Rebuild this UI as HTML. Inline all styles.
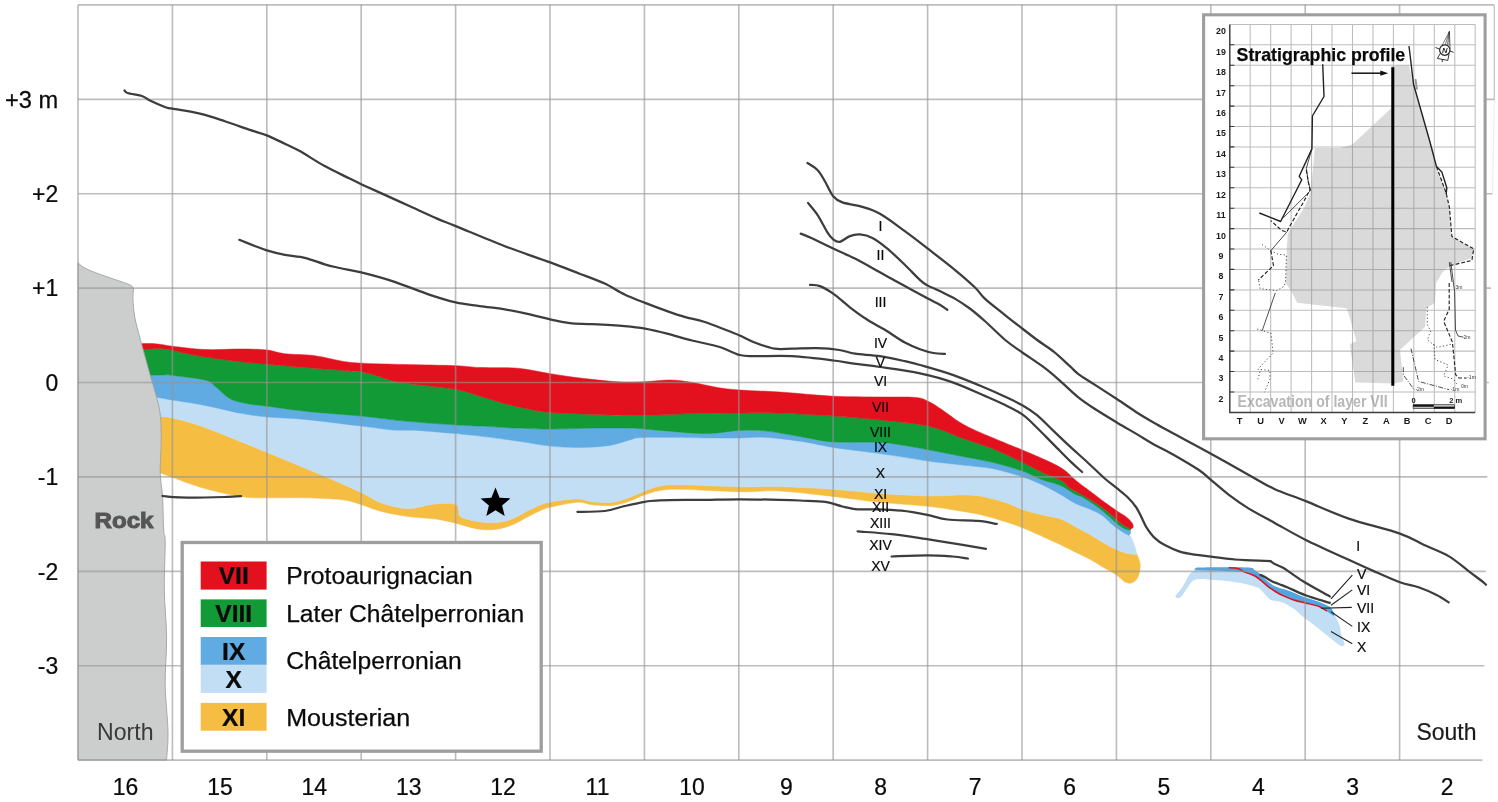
<!DOCTYPE html>
<html lang="en"><head><meta charset="utf-8"><title>Stratigraphic profile</title>
<style>
html,body{margin:0;padding:0;background:#fff;}
body{width:1498px;height:802px;overflow:hidden;font-family:"Liberation Sans",sans-serif;}
svg{display:block;}
text{font-family:"Liberation Sans",sans-serif;}
.ln{fill:none;stroke:#3d3d3d;stroke-width:2.25;stroke-linecap:round;stroke-linejoin:round;}
.pt{fill:none;stroke:#222;stroke-width:1.1;}
.ax{font-size:24px;fill:#0a0a0a;stroke:#0a0a0a;stroke-width:0.25px;}
.lab{font-size:14px;fill:#0a0a0a;stroke:#0a0a0a;stroke-width:0.2px;}
.il{font-size:9.3px;font-weight:bold;fill:#1a1a1a;}
.it{font-size:5px;fill:#333;}
.ith{fill:none;stroke:#222;stroke-width:0.8;}
.dsh{fill:none;stroke:#222;stroke-width:1.15;stroke-dasharray:3.8 2;}
</style></head><body>
<svg width="1498" height="802" viewBox="0 0 1498 802">
<rect width="1498" height="802" fill="#fff"/>

<g id="layers" stroke-width="0.5" stroke-linejoin="round">
<path fill="#f5bd42" stroke="#f5bd42" d="M154 416.2C155 416.3 156.9 416.3 160 416.6C163.1 416.9 164.9 416.1 172.4 417.9C179.9 419.7 189.3 421.7 205 427.4C220.7 433.1 246 443.8 266.8 452.3C287.6 460.8 314 471.9 329.8 478.6C345.6 485.4 353.4 488.9 361.7 492.8C370 496.8 373.4 499.8 379.7 502.3C386 504.8 394.3 506.8 399.7 507.8C405.1 508.8 407 509 412 508.5C417 508 424.9 505.6 429.6 504.8C434.3 504 436.4 503.9 440 503.6C443.6 503.4 448.4 502.9 451.3 503.3C454.2 503.7 456.2 504.7 457.5 505.8C458.8 506.9 458.4 508.5 458.8 510.1C459.2 511.7 458.4 513.9 459.6 515.4C460.8 516.9 462.2 517.8 466.2 518.9C470.2 520 477.8 521.7 483.6 522.2C489.4 522.7 496 522.6 501.1 521.9C506.2 521.2 509.8 519.8 514.2 518C518.6 516.2 522.9 513.2 527.3 511C531.7 508.8 536.5 506.4 540.4 504.9C544.3 503.4 544.6 502.9 550.8 501.9C557 500.9 570.5 499 577.4 499C584.3 499 586.6 501.2 592.4 501.8C598.2 502.4 606.1 503.1 612.3 502.3C618.5 501.6 624.4 499.2 629.8 497.3C635.2 495.4 639.8 492.9 644.8 491C649.8 489.1 654 487 659.8 486C665.6 485 666.5 484.7 679.8 484.8C693.1 484.9 723.1 486.5 739.7 486.8C756.3 487.1 764 486.2 779.6 486.6C795.2 487 816.6 488.2 833.3 489.3C850 490.4 864.2 492.4 880 493.5C895.8 494.6 914.8 495.6 928.1 495.9C941.4 496.1 951.4 495 960 495C968.6 495 972.5 494.8 980 496C987.5 497.2 997.8 500.1 1004.8 502.3C1011.8 504.5 1016.1 507.3 1022.3 509.4C1028.5 511.5 1035.9 513.2 1042.2 514.8C1048.5 516.4 1054.5 516.9 1060 518.8C1065.5 520.7 1070 523.8 1075 526.4C1080 529 1085 531.7 1090 534.6C1095 537.5 1100.5 541.1 1104.9 543.6C1109.3 546.1 1112.8 548 1116.6 549.6C1120.3 551.2 1124 552.6 1127.4 553.4C1130.8 554.2 1135.5 554.2 1137.1 554.4C1137.6 556 1139.7 560.7 1140.1 563.8C1140.5 566.9 1139.9 570.2 1139.3 572.8C1138.7 575.4 1137.8 577.9 1136.3 579.6C1134.8 581.4 1132.4 582.9 1130.4 583.3C1128.4 583.7 1125.4 582 1124.4 581.8C1123.1 580.7 1119.8 577.4 1116.6 575.1C1113.3 572.9 1109.3 570.9 1104.9 568.3C1100.5 565.7 1095 562 1090 559.3C1085 556.6 1080 554.4 1075 551.9C1070 549.4 1064.2 546.4 1060 544.4C1055.8 542.4 1056.2 542.7 1050 539.9C1043.8 537.1 1030 530.8 1022.5 527.8C1015 524.8 1011.9 523.8 1004.8 521.6C997.7 519.4 987.5 516.4 980 514.6C972.5 512.8 968.6 512.4 960 511C951.4 509.6 941.4 507.8 928.1 506.3C914.8 504.9 895.8 503.9 880 502.3C864.2 500.7 850 498.4 833.3 496.5C816.6 494.6 795.2 491.8 779.6 491C764 490.2 756.3 492.1 739.7 491.8C723.1 491.5 693.1 489.5 679.8 489.3C666.5 489.1 665.6 489.6 659.8 490.5C654 491.4 649.8 493.1 644.8 494.8C639.8 496.6 635.2 499.2 629.8 501C624.4 502.8 618.5 504.9 612.3 505.5C606.1 506.1 598.2 505.3 592.4 504.8C586.6 504.3 584.3 501.9 577.4 502.3C570.5 502.7 557 505.7 550.8 507.1C544.6 508.5 544.3 508.9 540.4 510.6C536.5 512.3 531.7 514.9 527.3 517.1C522.9 519.4 518.6 522.2 514.2 524.1C509.8 526 505.5 527.5 501.1 528.5C496.7 529.5 492.4 529.8 488 529.8C483.6 529.8 480.3 529.6 474.9 528.5C469.5 527.4 461.5 524.7 455.7 523.2C449.9 521.7 444.4 520.5 440 519.7C435.6 518.9 435.5 519.1 429.6 518.5C423.7 517.9 413 517.2 404.7 516C396.4 514.8 386.9 512.9 379.7 511C372.5 509.1 367.9 506.7 361.7 504.8C355.4 502.9 351.7 501 342.2 499.8C332.7 498.6 317.4 498.1 304.8 497.8C292.2 497.5 277.2 498 266.8 497.8C256.4 497.6 252.7 498.3 242.4 496.8C232.1 495.3 216.7 491.9 205 488.6C193.3 485.4 179.8 479.9 172.4 477.3C165 474.7 163.6 474.1 160.5 473C157.4 471.9 155.1 471.3 154 471Z"/>
<path fill="#c2def5" stroke="#c2def5" d="M152 396.6C152.9 396.7 154.1 396.8 157.5 397.4C160.9 398 164.5 398.7 172.4 400C180.3 401.3 193.3 403.1 205 405.4C216.7 407.7 232.1 411.7 242.4 413.6C252.7 415.5 256.4 415.9 266.8 416.9C277.2 417.9 289 417.9 304.8 419.4C320.6 420.9 347.1 424.4 361.7 426.1C376.3 427.9 383 429.2 392.2 429.9C401.4 430.6 406.4 429.8 417 430.4C427.6 431 445.3 432.7 455.8 433.6C466.3 434.6 469.7 434.9 480 436.1C490.3 437.4 505.8 439.4 517.5 441.1C529.2 442.8 540 445.1 550.4 446.1C560.8 447.2 570 447.5 579.9 447.4C589.8 447.3 601.5 446.6 609.8 445.4C618.1 444.1 624 441.2 629.8 439.9C635.6 438.6 632.3 437.7 644.8 437.4C657.3 437.1 688.9 437.8 704.7 437.9C720.5 438 729.3 438 739.7 437.9C750.1 437.8 756.2 436.7 767 437.4C777.8 438.1 793.6 440.2 804.6 441.9C815.6 443.6 820.7 445.4 833.3 447.4C845.9 449.3 864.2 451.3 880 453.6C895.8 455.9 914.8 459.1 928.1 461C941.4 462.9 949.3 463.5 960 464.8C970.7 466.1 981.9 466.6 992.3 468.6C1002.7 470.6 1014 474.1 1022.3 476.8C1030.6 479.5 1035.9 481.9 1042.2 484.8C1048.5 487.7 1054.5 491.1 1060 494.2C1065.5 497.3 1070 500.7 1075 503.2C1080 505.7 1085.5 507.2 1090 509.2C1094.5 511.2 1098.4 512.8 1101.9 515.2C1105.4 517.6 1108.5 521.3 1110.9 523.4C1113.4 525.5 1114.3 526.3 1116.6 527.9C1118.8 529.5 1122.4 531.9 1124.4 533.1C1126.5 534.4 1128.2 535 1128.9 535.4C1129.2 535.5 1129.5 534.6 1130.4 536.1C1131.3 537.6 1133 541.4 1134.1 544.4C1135.2 547.4 1136.6 552.7 1137.1 554.4C1135.5 554.2 1130.8 554.2 1127.4 553.4C1124 552.6 1120.3 551.2 1116.6 549.6C1112.8 548 1109.3 546.1 1104.9 543.6C1100.5 541.1 1095 537.5 1090 534.6C1085 531.7 1080 529 1075 526.4C1070 523.8 1065.5 520.7 1060 518.8C1054.5 516.9 1048.5 516.4 1042.2 514.8C1035.9 513.2 1028.5 511.5 1022.3 509.4C1016.1 507.3 1011.8 504.5 1004.8 502.3C997.8 500.1 987.5 497.2 980 496C972.5 494.8 968.6 495 960 495C951.4 495 941.4 496.1 928.1 495.9C914.8 495.6 895.8 494.6 880 493.5C864.2 492.4 850 490.4 833.3 489.3C816.6 488.2 795.2 487 779.6 486.6C764 486.2 756.3 487.1 739.7 486.8C723.1 486.5 693.1 484.9 679.8 484.8C666.5 484.7 665.6 485 659.8 486C654 487 649.8 489.1 644.8 491C639.8 492.9 635.2 495.4 629.8 497.3C624.4 499.2 618.5 501.6 612.3 502.3C606.1 503.1 598.2 502.4 592.4 501.8C586.6 501.2 584.3 499 577.4 499C570.5 499 557 500.9 550.8 501.9C544.6 502.9 544.3 503.4 540.4 504.9C536.5 506.4 531.7 508.8 527.3 511C522.9 513.2 518.6 516.2 514.2 518C509.8 519.8 506.2 521.2 501.1 521.9C496 522.6 489.4 522.7 483.6 522.2C477.8 521.7 470.2 520 466.2 518.9C462.2 517.8 460.8 516.9 459.6 515.4C458.4 513.9 459.2 511.7 458.8 510.1C458.4 508.5 458.8 506.9 457.5 505.8C456.2 504.7 454.2 503.7 451.3 503.3C448.4 502.9 443.6 503.4 440 503.6C436.4 503.9 434.3 504 429.6 504.8C424.9 505.6 417 508 412 508.5C407 509 405.1 508.8 399.7 507.8C394.3 506.8 386 504.8 379.7 502.3C373.4 499.8 370 496.8 361.7 492.8C353.4 488.9 345.6 485.4 329.8 478.6C314 471.9 287.6 460.8 266.8 452.3C246 443.8 220.7 433.1 205 427.4C189.3 421.7 179.9 419.7 172.4 417.9C164.9 416.1 163.1 416.9 160 416.6C156.9 416.3 155 416.3 154 416.2Z"/>
<path fill="#60abe2" stroke="#60abe2" d="M145 375.4C145.9 375.4 147.4 375.3 150.7 375.2C154 375.1 161.1 374.9 164.7 374.9C168.3 374.9 165.7 374.5 172.4 375.4C179.1 376.2 197.9 378.2 205 380C212.1 381.8 210.8 383.1 215 386.2C219.2 389.3 224.6 395.8 230 398.7C235.4 401.6 241.3 402.4 247.4 403.7C253.5 404.9 257.2 404.9 266.8 406.2C276.4 407.4 289 409.5 304.8 411.2C320.6 412.9 345.1 414.5 361.7 416.1C378.3 417.8 389 419.6 404.7 421.1C420.4 422.6 443.2 424.1 455.8 424.9C468.4 425.7 469.7 425.6 480 426.1C490.3 426.6 505.8 427.6 517.5 428.1C529.2 428.6 537.9 429.1 550.4 429.1C562.9 429.1 579.2 428.3 592.4 428.1C605.6 427.9 619.4 427.8 629.8 428.1C640.2 428.4 642.3 429 654.8 429.9C667.3 430.8 690.6 433.5 704.7 433.6C718.9 433.7 729.3 430.8 739.7 430.4C750.1 430 756.2 429.9 767 431.1C777.8 432.3 793.6 435.6 804.6 437.4C815.6 439.2 820.7 441.1 833.3 441.9C845.9 442.7 868.9 441.9 880 442.4C891.1 442.9 892 443.6 900 444.8C908 446 918.1 447.9 928.1 449.8C938.1 451.7 949.3 453.9 960 456C970.7 458.1 981.9 459.8 992.3 462.3C1002.7 464.8 1014 468.1 1022.3 471C1030.6 473.9 1035.9 477.4 1042.2 479.8C1048.5 482.2 1054.5 482.8 1060 485.2C1065.5 487.6 1071.2 492.2 1075 494.2C1078.8 496.2 1078.8 495.1 1082.5 497.2C1086.2 499.3 1092.7 503.4 1097.4 506.9C1102.1 510.4 1107.7 515.5 1110.9 518.2C1114.1 521 1114.3 521.6 1116.6 523.4C1118.8 525.1 1122.1 527.6 1124.4 528.7C1126.7 529.8 1129.4 529.9 1130.4 530.1C1130.4 530.6 1130.8 532.1 1130.6 533C1130.3 533.9 1129.2 535 1128.9 535.4C1128.2 535 1126.5 534.4 1124.4 533.1C1122.4 531.9 1118.8 529.5 1116.6 527.9C1114.3 526.3 1113.4 525.5 1110.9 523.4C1108.5 521.3 1105.4 517.6 1101.9 515.2C1098.4 512.8 1094.5 511.2 1090 509.2C1085.5 507.2 1080 505.7 1075 503.2C1070 500.7 1065.5 497.3 1060 494.2C1054.5 491.1 1048.5 487.7 1042.2 484.8C1035.9 481.9 1030.6 479.5 1022.3 476.8C1014 474.1 1002.7 470.6 992.3 468.6C981.9 466.6 970.7 466.1 960 464.8C949.3 463.5 941.4 462.9 928.1 461C914.8 459.1 895.8 455.9 880 453.6C864.2 451.3 845.9 449.3 833.3 447.4C820.7 445.4 815.6 443.6 804.6 441.9C793.6 440.2 777.8 438.1 767 437.4C756.2 436.7 750.1 437.8 739.7 437.9C729.3 438 720.5 438 704.7 437.9C688.9 437.8 657.3 437.1 644.8 437.4C632.3 437.7 635.6 438.6 629.8 439.9C624 441.2 618.1 444.1 609.8 445.4C601.5 446.6 589.8 447.3 579.9 447.4C570 447.5 560.8 447.2 550.4 446.1C540 445.1 529.2 442.8 517.5 441.1C505.8 439.4 490.3 437.4 480 436.1C469.7 434.9 466.3 434.6 455.8 433.6C445.3 432.7 427.6 431 417 430.4C406.4 429.8 401.4 430.6 392.2 429.9C383 429.2 376.3 427.9 361.7 426.1C347.1 424.4 320.6 420.9 304.8 419.4C289 417.9 277.2 417.9 266.8 416.9C256.4 415.9 252.7 415.5 242.4 413.6C232.1 411.7 216.7 407.7 205 405.4C193.3 403.1 180.3 401.3 172.4 400C164.5 398.7 160.9 398 157.5 397.4C154.1 396.8 152.9 396.7 152 396.6Z"/>
<path fill="#119a36" stroke="#119a36" d="M136 350.5C137.1 350.4 139 350.3 142.5 350C146 349.7 152.9 348.6 157.2 348.5C161.5 348.4 164.6 349 168.4 349.6C172.2 350.2 173.9 351 180 352.2C186.1 353.4 194.6 355.4 205 357C215.4 358.6 232.1 360.8 242.4 362C252.7 363.2 256.4 363.3 266.8 364.2C277.2 365.1 292.2 366.5 304.8 367.5C317.4 368.5 332.2 369.6 342.2 370.4C352.2 371.2 356.4 370.7 364.7 372.4C373 374.1 385.5 378.9 392.2 380.7C398.9 382.5 394.3 381.8 404.7 383.2C415.1 384.6 442.1 387 454.6 389.2C467.2 391.4 471.6 393.8 480 396.2C488.4 398.6 496.7 401.5 505 403.7C513.3 405.9 522.4 407.9 530 409.4C537.6 410.8 540 411.6 550.4 412.4C560.8 413.2 576.7 413.9 592.4 414.4C608.1 414.9 628.2 415.5 644.8 415.4C661.4 415.3 676.4 414 692.2 413.6C708 413.2 725.1 413.1 739.7 413C754.3 412.9 764 412.6 779.6 413.1C795.2 413.6 816.6 415 833.3 416.1C850 417.2 864.2 418.3 880 420C895.8 421.7 914.8 423.2 928.1 426.1C941.4 429 949.3 433.6 960 437.4C970.7 441.1 981.9 444.5 992.3 448.6C1002.7 452.8 1014 458.4 1022.3 462.3C1030.6 466.2 1035.5 469.2 1042.2 472.3C1048.9 475.4 1057.7 478.5 1062.2 481C1066.7 483.5 1065.6 485.2 1069 487.5C1072.4 489.8 1077.8 492.2 1082.5 495C1087.2 497.8 1092.7 500.8 1097.4 504C1102.1 507.2 1107.7 511.8 1110.9 514.4C1114.1 517 1114.3 517.8 1116.6 519.7C1118.8 521.6 1122.1 524.2 1124.4 525.7C1126.7 527.2 1129.4 528.1 1130.4 528.6L1130.4 530.1C1129.4 529.9 1126.7 529.8 1124.4 528.7C1122.1 527.6 1118.8 525.1 1116.6 523.4C1114.3 521.6 1114.1 521 1110.9 518.2C1107.7 515.5 1102.1 510.4 1097.4 506.9C1092.7 503.4 1086.2 499.3 1082.5 497.2C1078.8 495.1 1078.8 496.2 1075 494.2C1071.2 492.2 1065.5 487.6 1060 485.2C1054.5 482.8 1048.5 482.2 1042.2 479.8C1035.9 477.4 1030.6 473.9 1022.3 471C1014 468.1 1002.7 464.8 992.3 462.3C981.9 459.8 970.7 458.1 960 456C949.3 453.9 938.1 451.7 928.1 449.8C918.1 447.9 908 446 900 444.8C892 443.6 891.1 442.9 880 442.4C868.9 441.9 845.9 442.7 833.3 441.9C820.7 441.1 815.6 439.2 804.6 437.4C793.6 435.6 777.8 432.3 767 431.1C756.2 429.9 750.1 430 739.7 430.4C729.3 430.8 718.9 433.7 704.7 433.6C690.6 433.5 667.3 430.8 654.8 429.9C642.3 429 640.2 428.4 629.8 428.1C619.4 427.8 605.6 427.9 592.4 428.1C579.2 428.3 562.9 429.1 550.4 429.1C537.9 429.1 529.2 428.6 517.5 428.1C505.8 427.6 490.3 426.6 480 426.1C469.7 425.6 468.4 425.7 455.8 424.9C443.2 424.1 420.4 422.6 404.7 421.1C389 419.6 378.3 417.8 361.7 416.1C345.1 414.5 320.6 412.9 304.8 411.2C289 409.5 276.4 407.4 266.8 406.2C257.2 404.9 253.5 404.9 247.4 403.7C241.3 402.4 235.4 401.6 230 398.7C224.6 395.8 219.2 389.3 215 386.2C210.8 383.1 212.1 381.8 205 380C197.9 378.2 179.1 376.2 172.4 375.4C165.7 374.5 168.3 374.9 164.7 374.9C161.1 374.9 154 375.1 150.7 375.2C147.4 375.3 145.9 375.4 145 375.4Z"/>
<path fill="#e3101e" stroke="#e3101e" d="M136 343.9C136.9 343.9 138.9 343.8 141.2 343.7C143.5 343.6 146.4 343.4 149.7 343.5C153 343.6 157.1 343.9 160.9 344.4C164.7 344.8 165.1 345.3 172.4 346.2C179.7 347.1 193.2 349 204.9 349.5C216.6 350 232.1 348.9 242.4 349C252.7 349.1 259.7 349.2 266.8 350C273.9 350.8 276.8 352.8 284.8 353.7C292.8 354.6 305.2 354.4 314.8 355.7C324.4 356.9 334.4 359.9 342.2 361.2C350 362.4 351.3 362.6 361.7 363.2C372.1 363.8 389 364.1 404.7 364.5C420.4 364.9 443.2 365.2 455.8 365.7C468.4 366.2 469.7 367.1 480 367.5C490.3 367.9 505.8 367.2 517.5 368.2C529.2 369.2 540 372.1 550.4 373.7C560.8 375.3 568.8 376.7 579.9 378C591 379.3 606.5 381.1 617.3 381.7C628.1 382.3 636 382 644.8 381.7C653.5 381.4 661.9 379.9 669.8 380C677.7 380.1 684.3 381.2 692.2 382.4C700.1 383.6 709.3 386.1 717.2 387.4C725.1 388.7 729.3 389.2 739.7 390C750.1 390.8 764 391 779.6 392C795.2 393 816.6 395.4 833.3 396.2C850 397 866.4 396.8 880 397C893.6 397.2 907 396.7 915 397.4C923 398.1 923.5 399.1 928.1 401.2C932.7 403.3 937.1 406.5 942.4 410C947.7 413.5 953.7 418.7 960 422.4C966.3 426.1 969.6 427.8 980 432.4C990.4 437 1011.9 445.6 1022.3 450C1032.7 454.4 1035.5 455.5 1042.2 458.6C1048.9 461.7 1056.5 464.9 1062.2 468.6C1067.9 472.3 1071.9 477.2 1076.5 481C1081.1 484.8 1085.2 487.6 1090 491.2C1094.8 494.8 1100.6 499.2 1105 502.5C1109.4 505.8 1113.1 508.3 1116.6 510.7C1120.1 513.1 1123.4 514.7 1125.9 516.7C1128.5 518.7 1130.7 521 1131.9 522.7C1133.1 524.5 1133.3 526.1 1133.1 527.2C1132.8 528.3 1130.9 529 1130.4 529.4L1130.4 528.6C1129.4 528.1 1126.7 527.2 1124.4 525.7C1122.1 524.2 1118.8 521.6 1116.6 519.7C1114.3 517.8 1114.1 517 1110.9 514.4C1107.7 511.8 1102.1 507.2 1097.4 504C1092.7 500.8 1087.2 497.8 1082.5 495C1077.8 492.2 1072.4 489.8 1069 487.5C1065.6 485.2 1066.7 483.5 1062.2 481C1057.7 478.5 1048.9 475.4 1042.2 472.3C1035.5 469.2 1030.6 466.2 1022.3 462.3C1014 458.4 1002.7 452.8 992.3 448.6C981.9 444.5 970.7 441.1 960 437.4C949.3 433.6 941.4 429 928.1 426.1C914.8 423.2 895.8 421.7 880 420C864.2 418.3 850 417.2 833.3 416.1C816.6 415 795.2 413.6 779.6 413.1C764 412.6 754.3 412.9 739.7 413C725.1 413.1 708 413.2 692.2 413.6C676.4 414 661.4 415.3 644.8 415.4C628.2 415.5 608.1 414.9 592.4 414.4C576.7 413.9 560.8 413.2 550.4 412.4C540 411.6 537.6 410.8 530 409.4C522.4 407.9 513.3 405.9 505 403.7C496.7 401.5 488.4 398.6 480 396.2C471.6 393.8 467.2 391.4 454.6 389.2C442.1 387 415.1 384.6 404.7 383.2C394.3 381.8 398.9 382.5 392.2 380.7C385.5 378.9 373 374.1 364.7 372.4C356.4 370.7 352.2 371.2 342.2 370.4C332.2 369.6 317.4 368.5 304.8 367.5C292.2 366.5 277.2 365.1 266.8 364.2C256.4 363.3 252.7 363.2 242.4 362C232.1 360.8 215.4 358.6 205 357C194.6 355.4 186.1 353.4 180 352.2C173.9 351 172.2 350.2 168.4 349.6C164.6 349 161.5 348.4 157.2 348.5C152.9 348.6 146 349.7 142.5 350C139 350.3 137.1 350.4 136 350.5Z"/>
<path fill="#c2def5" d="M1176.3 594.5C1177 593.7 1179 591.9 1180.5 589.8C1182 587.7 1183.9 584.3 1185.4 581.7C1186.9 579.1 1188.1 576.1 1189.4 574.4C1190.8 572.6 1192.3 572.1 1193.5 571.2C1194.7 570.3 1194.8 569.7 1196.7 569.2C1198.6 568.7 1196.5 568.3 1205 568C1213.5 567.7 1239.6 567.3 1247.8 567.6C1256 567.9 1252.4 569.1 1254.3 570C1256.2 570.9 1256.9 571.4 1259.1 573.2C1261.2 575 1264.5 578.7 1267.2 580.9C1269.9 583.1 1271.9 585 1275.3 586.6C1278.7 588.2 1282.8 588.7 1287.8 590.5C1292.8 592.3 1300.2 595.6 1305.5 597.6C1310.8 599.6 1315.8 600.7 1319.8 602.3C1323.8 603.9 1327.4 605 1329.8 607.1C1332.2 609.2 1332.9 612.9 1334 614.8C1335.1 616.7 1335.4 616.3 1336.4 618.3C1337.4 620.3 1339.1 624 1339.9 626.6C1340.7 629.2 1340.3 630.9 1341.1 633.7C1341.8 636.5 1343.9 641.2 1344.4 643.2C1344.9 645.2 1344.5 645.1 1344 645.6C1343.5 646.1 1341.6 646.1 1341.1 646.2C1340.1 645.5 1338.2 644.3 1335.2 642C1332.2 639.7 1327.2 635.6 1323.3 632.5C1319.3 629.4 1315 625.9 1311.5 623.1C1308 620.3 1305 618.3 1302 615.9C1299 613.5 1297.1 611.1 1293.7 608.8C1290.3 606.5 1285.8 603.9 1281.8 602.3C1277.8 600.7 1273.1 601.1 1270 599.4C1266.9 597.7 1265 594.2 1263.2 592.3C1261.4 590.4 1261.1 589.4 1259.1 588.2C1257.1 587.1 1253.7 586.2 1251 585.4C1248.3 584.6 1247 584.1 1242.9 583.4C1238.9 582.6 1232 581.5 1226.7 580.9C1221.4 580.3 1215.1 580 1211.1 579.7C1207 579.4 1205.1 579.1 1202.4 579.1C1199.7 579.1 1197 579.1 1195.1 579.7C1193.2 580.3 1192.6 580.9 1191.1 582.6C1189.6 584.3 1187.7 587.6 1186.2 589.8C1184.7 591.9 1183.4 594.1 1182.2 595.5C1181 596.9 1180 597.7 1178.9 598C1177.8 598.3 1176 597.8 1175.6 597.2C1175.2 596.6 1176.2 595 1176.3 594.5Z"/>
<path fill="#52a5e0" d="M1196.7 567.6C1198.1 567.6 1196.5 567.4 1205 567.4C1213.5 567.4 1239.6 567.2 1247.8 567.6C1256 568 1252.4 569.1 1254.3 570C1256.2 570.9 1256.9 571.4 1259.1 573.2C1261.2 575 1264.5 578.7 1267.2 580.9C1269.9 583.1 1271.9 585 1275.3 586.6C1278.7 588.2 1282.8 588.7 1287.8 590.5C1292.8 592.3 1300.2 595.6 1305.5 597.6C1310.8 599.6 1315.8 600.7 1319.8 602.3C1323.8 603.9 1327.7 605.8 1329.8 607.1C1331.9 608.4 1331.4 608.8 1332.2 610C1333 611.2 1334.4 613.2 1334.6 614.2C1334.8 615.2 1333.6 615.6 1333.4 615.9C1332.3 615.1 1328.6 612.4 1326.9 611.2C1325.2 610 1324.9 609.7 1323.3 608.8C1321.7 607.9 1320.4 606.9 1317.4 605.9C1314.4 604.9 1309.5 603.9 1305.5 602.9C1301.5 601.9 1297.4 601.2 1293.7 600C1290 598.8 1286.6 597.3 1283.5 595.9C1280.4 594.5 1278 593.2 1275.3 591.5C1272.6 589.8 1269.5 587.6 1267.2 585.8C1264.9 584 1263.5 582.4 1261.6 580.9C1259.7 579.4 1257.7 577.6 1255.9 576.5C1254.1 575.4 1253 575.1 1251 574.4C1249 573.7 1247.8 572.7 1243.7 572.2C1239.7 571.7 1234.5 571.6 1226.7 571.2C1218.9 570.8 1201.7 570.6 1196.7 570C1191.7 569.4 1196.7 568 1196.7 567.6Z"/>
<path fill="none" stroke="#e0101e" stroke-width="1.5" d="M1228.8 567.6C1229.8 567.7 1233 567.7 1234.8 568C1236.6 568.3 1238.2 568.6 1239.7 569.2C1241.2 569.8 1241.8 570.7 1243.7 571.6C1245.6 572.5 1249 573.6 1251 574.4C1253 575.2 1254.1 575.4 1255.9 576.5C1257.7 577.6 1259.7 579.4 1261.6 580.9C1263.5 582.4 1264.9 584 1267.2 585.8C1269.5 587.6 1272.6 589.8 1275.3 591.5C1278 593.2 1280.4 594.5 1283.5 595.9C1286.6 597.3 1290 598.8 1293.7 600C1297.4 601.2 1301.5 601.9 1305.5 602.9C1309.5 603.9 1314.4 604.9 1317.4 605.9C1320.4 606.9 1321.7 607.9 1323.3 608.8C1324.9 609.7 1326.3 610.8 1326.9 611.2"/>
</g>
<path id="rock" fill="#cccdcd" stroke="#a2a2a2" stroke-width="0.9" d="M78 262.7C79 263.6 81.1 266 84.3 267.8C87.5 269.6 92.1 271.4 97.4 273.4C102.7 275.4 110.8 278 116.1 279.9C121.4 281.8 126.2 283.2 129.2 284.6C132.1 286 133 287.4 133.8 288C133.7 289.8 132.7 293.7 132.9 298.6C133.1 303.5 133.6 310.5 134.8 317.3C136.1 324.1 137.9 330.4 140.4 339.7C142.9 349 146.9 363.4 149.7 373.4C152.5 383.4 155.4 392.5 157.2 399.7C159 406.9 159.8 409.5 160.5 416.6C161.2 423.7 161.2 433 161.2 442.4C161.1 451.8 160 464.1 160.2 473C160.4 481.9 161.9 486.5 162.5 496C163.1 505.5 163.2 522.3 163.7 530C164.1 537.7 165.1 532.1 165.2 542C165.3 551.9 164.1 573.8 164.3 589.6C164.5 605.4 166.4 621.2 166.6 637C166.8 652.8 165 668.6 165.2 684.4C165.4 700.2 167.8 719.2 168 731.8C168.2 744.4 166.8 755.3 166.6 760L78 760Z"/>
<g id="grid" fill="none" stroke="#959595" stroke-opacity="0.62" stroke-width="1.65"><path d="M78 4.9H1494.3M78 99.3H1494.3M78 193.7H1492.6M78 288.1H1491M78 382.5H1488.8M78 476.9H1487.3M78 571.3H1485.8M78 665.7H1484.4M78 760.1H1482.4"/><path d="M78 4.9V760.1M172.4 4.9V760.1M266.8 4.9V760.1M361.2 4.9V760.1M455.6 4.9V760.1M550 4.9V760.1M644.4 4.9V760.1M738.8 4.9V760.1M833.2 4.9V760.1M927.6 4.9V760.1M1022 4.9V760.1M1116.4 4.9V760.1M1210.8 4.9V760.1M1305.2 4.9V760.1M1399.6 4.9V760.1"/></g>
<path fill="none" stroke="#c4c4c4" stroke-width="1.3" d="M1494.3 4.9V100"/>
<path fill="none" stroke="#ececec" stroke-width="1" d="M1494.3 100L1492.6 194"/>
<g class="ln">
<path d="M124.5 90.5C125 90.9 124.5 92 127.5 93C130.5 94 138.7 95 142.4 96.2C146.1 97.5 146.2 98.7 149.9 100.5C153.7 102.3 161.2 105.6 164.9 107C168.7 108.4 166.6 107.6 172.4 108.7C178.2 109.8 191.2 111.6 199.9 113.7C208.6 115.8 216.5 118.5 224.8 121.2C233.1 123.9 242.8 127.5 249.8 129.9C256.8 132.3 261 133.1 266.8 135.4C272.6 137.7 279.3 141.1 284.8 143.7C290.3 146.3 293.2 147.4 299.8 151.1C306.4 154.8 316.4 161.5 324.7 166.1C333 170.7 343.5 175.5 349.7 178.6C355.9 181.7 356.3 181.9 361.7 184.4C367.1 186.9 373.7 189.8 382.1 193.6C390.5 197.4 402.9 203.1 412.1 207.3C421.3 211.5 429.8 215.5 437.1 218.6C444.4 221.7 444.5 221.5 455.8 226.1C467.1 230.7 489.1 240.1 504.8 246.2C520.5 252.2 537.7 257.8 550.2 262.4C562.7 267 570.6 270.2 579.7 273.7C588.8 277.2 597.2 280.2 604.7 283.6C612.2 287.1 617.9 291.2 624.6 294.4C631.3 297.6 638 300.1 645.1 302.9C652.2 305.7 660.5 308.8 667.1 311.1C673.7 313.4 678.5 315.1 684.6 316.9C690.8 318.7 697.1 319.6 704 321.8C710.9 324 720 327.7 726 330C732 332.3 734.9 333.4 739.7 335.5C744.5 337.6 748.9 340.3 754.7 342.5C760.5 344.7 768.4 347.7 774.6 348.7C780.8 349.7 784.9 348.8 792 348.7C799.1 348.6 809.1 348 817 348.2C824.9 348.4 833.2 349.1 839.5 350C845.8 350.9 848.2 352.7 855 353.7C861.8 354.7 871.7 354.9 880 356.2C888.3 357.4 898.2 359.7 904.9 361.2C911.6 362.7 911.9 362.7 920 365C928.1 367.3 942.3 371.2 953.4 375.1C964.5 379 978.4 385 986.8 388.5C995.1 392 997.6 393.2 1003.5 396C1009.4 398.8 1016.7 402 1022.3 405.2C1027.9 408.4 1031.8 410.9 1037 415.2C1042.2 419.5 1048.1 425.8 1053.7 431.1C1059.3 436.4 1064.8 441.8 1070.4 446.9C1076 452 1082.7 457.9 1087.1 462C1091.5 466.1 1093.8 468.3 1097 471.3C1100.2 474.3 1103.2 477.2 1106.5 480C1109.8 482.8 1113.3 485.4 1116.8 488.2C1120.3 491 1124.2 493.8 1127.4 497C1130.7 500.2 1133.8 503.9 1136.3 507.5C1138.8 511.1 1140.5 515.5 1142.3 518.9C1144 522.3 1144.8 524.8 1146.8 527.9C1148.8 531 1151.3 534.7 1154.3 537.6C1157.3 540.5 1160.5 542.8 1164.8 545.1C1169 547.4 1174.8 550 1179.8 551.6C1184.8 553.2 1189.5 553.8 1194.7 554.6C1199.9 555.4 1204.4 555.8 1211.1 556.6C1217.8 557.4 1228.1 558.9 1234.8 559.5C1241.5 560.1 1245 560 1251 560.3C1257 560.6 1267.2 561 1270.5 561.1"/>
<path d="M239.3 239.8C241.9 240.8 250.2 244.2 254.8 246C259.4 247.8 261.8 248.8 266.8 250.3C271.8 251.8 278.5 253.6 284.8 254.8C291.1 256.1 298.1 256.2 304.7 257.8C311.3 259.4 318.9 262.6 324.7 264.3C330.5 266 333.6 266.6 339.7 268C345.8 269.4 352.4 270.2 361.2 272.4C370 274.6 380.9 277.4 392.4 281.1C403.8 284.9 419.4 291.3 429.9 294.9C440.4 298.4 447.3 300.5 455.6 302.4C463.9 304.3 471.6 304.9 479.8 306.1C488 307.3 496.5 308 504.8 309.4C513.1 310.8 522.2 312.7 529.8 314.4C537.4 316.1 543.6 317.9 550.2 319.4C556.9 320.8 562.7 322.3 569.7 323.1C576.7 323.9 583.1 323.6 592.2 324.1C601.4 324.6 615.8 325.4 624.6 326.1C633.4 326.9 638 327.4 645.1 328.6C652.2 329.9 659.2 331.6 667.1 333.6C675 335.6 683.4 338.3 692.2 340.5C701 342.7 711.8 344.6 719.7 347C727.6 349.4 733.9 353.5 739.7 355C745.5 356.5 746 356 754.7 356.2C763.4 356.4 778.9 355.5 792 356.2C805.1 356.9 823 359.2 833.3 360.5C843.6 361.8 846.2 362.6 854 363.7C861.8 364.8 869 365.4 880 367C891 368.6 907.8 370.8 920 373.4C932.2 376 942.3 378.7 953.4 382.6C964.5 386.5 978.4 393.2 986.8 396.8C995.1 400.4 997.6 401.4 1003.5 404.3C1009.4 407.2 1016.7 410.5 1022.3 414.4C1027.9 418.3 1031.8 422.7 1037 427.7C1042.2 432.7 1048.1 439 1053.7 444.6C1059.3 450.2 1065.7 456.8 1070.4 461.4C1075.1 466 1080.1 470.2 1082.1 472"/>
<path d="M807.5 163C809.2 164.2 814.6 167 817.5 170C820.4 173 822.3 176.8 824.9 181.2C827.5 185.6 830.3 192.7 833.2 196.2C836.1 199.7 838 200.7 842.4 202.4C846.8 204.1 853.6 204.3 859.9 206.2C866.1 208.1 872.4 209.5 879.9 213.7C887.4 217.8 896.8 225.3 904.8 231.1C912.8 236.9 919.5 242.1 927.8 248.6C936.1 255.1 947 263.4 954.8 269.8C962.6 276.2 969.8 282.5 974.8 287.3C979.8 292.1 979.8 294 984.8 298.6C989.8 303.2 998.5 309.8 1004.7 314.8C1010.9 319.8 1016.8 324.3 1022.2 328.5C1027.6 332.7 1032 336.1 1037.2 340C1042.5 343.9 1048.2 347.2 1053.7 351.7C1059.2 356.1 1066.2 362.9 1070.4 366.7C1074.6 370.5 1074.5 371.2 1078.7 374.3C1082.9 377.4 1089 380.9 1095.4 385.1C1101.8 389.3 1110.2 394.7 1117.2 399.3C1124.2 403.9 1131.1 408.8 1137.2 412.7C1143.3 416.6 1147.8 419.2 1153.9 422.7C1160 426.2 1164.4 428.5 1173.9 433.7C1183.4 438.9 1198.4 446.8 1210.9 453.7C1223.4 460.6 1238.3 469.1 1248.8 474.9C1259.3 480.7 1264.3 484.3 1273.8 488.7C1283.3 493.1 1293.3 496.1 1305.8 501.1C1318.3 506.1 1333 513.2 1348.7 518.6C1364.4 524 1387.4 529.2 1399.9 533.6C1412.4 538 1415.5 541 1423.6 544.8C1431.7 548.5 1441.1 551.7 1448.6 556.1C1456.1 560.5 1462.8 566.7 1468.6 571.1C1474.4 575.5 1480.6 580 1483.5 582.3C1486.4 584.6 1485.6 584.4 1486 584.8"/>
<path d="M808 202.9C809.6 204.9 814.3 210 817.5 214.9C820.7 219.8 824.8 228.3 827.4 232.4C830 236.5 831.1 237.8 833.2 239.4C835.3 241 837.1 242.5 839.9 241.9C842.7 241.3 846.6 237.3 849.9 236.1C853.2 234.8 856.1 234.1 859.9 234.4C863.6 234.7 867.8 235.5 872.4 237.9C877 240.3 882 244.1 887.4 248.6C892.8 253.1 899.4 259.6 904.8 264.8C910.2 270 916 276.3 919.8 279.8C923.6 283.3 924.5 283.7 927.8 285.6C931.1 287.5 935.3 288.9 939.8 291.1C944.3 293.3 949.8 295.7 954.8 298.6C959.8 301.5 964.8 304.8 969.8 308.5C974.8 312.2 978.9 315.8 984.8 321C990.7 326.2 999 334.8 1005.2 340C1011.5 345.2 1015.6 347.8 1022.3 352.5C1029 357.2 1038.7 363.4 1045.3 368.4C1051.9 373.4 1056.4 377.7 1062 382.6C1067.6 387.5 1073.1 393.2 1078.7 397.6C1084.3 402.1 1089 405.1 1095.4 409.3C1101.8 413.5 1110.2 418.5 1117.2 422.7C1124.2 426.9 1131.1 430.8 1137.2 434.4C1143.3 438 1147.8 441 1153.9 444.4C1160 447.8 1166.4 450.7 1173.9 455C1181.4 459.3 1192.7 465.9 1198.9 470C1205.1 474.1 1205.9 475.8 1210.9 479.9C1215.9 484 1222.6 490.1 1228.9 494.9C1235.2 499.7 1241.3 504 1248.8 508.6C1256.3 513.2 1264.3 517.2 1273.8 522.4C1283.3 527.6 1293.3 533.7 1305.8 539.9C1318.3 546.1 1337.4 554.6 1348.7 559.8C1360 565 1365.2 567.4 1373.7 571.1C1382.2 574.9 1392.4 579.6 1399.9 582.3C1407.4 585 1412.6 585.2 1418.6 587.3C1424.6 589.4 1431.1 592.3 1436.1 594.8C1441.1 597.3 1446.5 601 1448.6 602.3"/>
<path d="M800.7 233.6C802.7 234.4 807.1 236.1 812.5 238.6C817.9 241.1 826.1 245.3 833.2 248.6C840.3 251.9 847.1 254.7 854.9 258.6C862.7 262.6 871.6 267.7 879.9 272.3C888.2 276.9 896.8 281.7 904.8 286.1C912.8 290.5 922 295.5 927.8 298.6C933.6 301.7 936.5 302.9 939.8 304.8C943 306.7 946 309 947.3 309.8"/>
<path d="M810 284.8C811.7 285 816.1 284.6 820 286.1C823.9 287.6 828.2 290.1 833.2 293.6C838.2 297.1 844.2 302.9 849.9 307.3C855.6 311.7 861.6 316.1 867.4 319.8C873.2 323.6 878.6 326 884.9 329.8C891.1 333.6 899 339.3 904.9 342.5C910.8 345.7 915.2 347.4 920 349.2C924.8 350.9 929.2 352.2 933.4 353C937.6 353.8 943.1 353.8 945 353.9"/>
<path d="M1260.4 574.9C1261.1 575.2 1263 575.9 1264.8 576.9C1266.6 577.9 1268.9 579.7 1271.3 580.9C1273.7 582.1 1276.7 583.1 1279.4 584.2C1282.2 585.3 1283.5 585.7 1287.8 587.5C1292.1 589.3 1298.5 592.6 1305.5 595.2C1312.5 597.8 1325.8 601.6 1329.8 602.9"/>
<path d="M162.5 496C165.4 496.2 172.9 497.1 180 497.3C187.1 497.6 197.5 497.6 205 497.5C212.5 497.4 219 497.2 225 497C231 496.8 238.3 496.3 241 496.2"/>
<path d="M577.4 511.8C582 511.7 596.9 512 604.8 511C612.7 510 618.1 507.5 624.8 506C631.5 504.5 639 502.8 644.8 501.8C650.6 500.9 649.8 500.6 659.8 500.3C669.8 500 691.4 500 704.7 499.8C718 499.6 727.2 499.3 739.7 499.3C752.2 499.3 769.6 499.6 779.6 499.8C789.6 500 792.4 500.1 800 500.5C807.6 500.9 818.3 500.9 825.4 501.9C832.5 502.9 837 505.3 842.4 506.5C847.8 507.7 852 508.8 857.6 509.3C863.2 509.8 868.9 509.1 876.3 509.3C883.6 509.5 893.2 509.8 901.7 510.7C910.2 511.6 919.6 513.4 927.2 514.9C934.8 516.4 939 518.5 947.5 519.5C956 520.5 969.8 520.2 978 520.9C986.2 521.6 993.6 523.4 996.7 523.9"/>
<path d="M857.6 531.4C863.3 531.9 880 532.8 891.6 534.1C903.2 535.4 915.6 537.5 927.2 539.2C938.8 541 951.3 543 961.1 544.6C970.9 546.2 981.9 548.1 986 548.8"/>
<path d="M891.6 556.5C897.5 556.3 917 555.3 927.2 555.3C937.4 555.3 945.8 556 952.6 556.5C959.4 557 965.4 558.2 967.9 558.5"/>
<path d="M1270.5 561.1C1271.3 561.6 1273.1 563.1 1275.3 564.3C1277.5 565.4 1281 566.6 1283.5 568C1286 569.4 1286.3 569.9 1290 572.4C1293.7 574.9 1298.9 578.8 1305.5 582.8C1312.1 586.8 1325.8 594.1 1329.8 596.4"/>
</g>
<polygon fill="#000" points="495.5,487.6 499.6,497.7 510.4,498.4 502.1,505.4 504.7,516 495.5,510.2 486.3,516 488.9,505.4 480.6,498.4 491.4,497.7"/>
<text class="ax" transform="translate(58.2 107.5) scale(0.985 1)" text-anchor="end">+3 m</text>
<text class="ax" transform="translate(58.2 201.9) scale(0.955 1)" text-anchor="end">+2</text>
<text class="ax" transform="translate(58.2 296.3) scale(0.955 1)" text-anchor="end">+1</text>
<text class="ax" transform="translate(58.2 390.7) scale(0.955 1)" text-anchor="end">0</text>
<text class="ax" transform="translate(58.2 485.1) scale(0.955 1)" text-anchor="end">-1</text>
<text class="ax" transform="translate(58.2 579.5) scale(0.955 1)" text-anchor="end">-2</text>
<text class="ax" transform="translate(58.2 673.9) scale(0.955 1)" text-anchor="end">-3</text>
<text class="ax" transform="translate(125.5 795.3) scale(0.955 1)" text-anchor="middle">16</text>
<text class="ax" transform="translate(219.9 795.3) scale(0.955 1)" text-anchor="middle">15</text>
<text class="ax" transform="translate(314.3 795.3) scale(0.955 1)" text-anchor="middle">14</text>
<text class="ax" transform="translate(408.7 795.3) scale(0.955 1)" text-anchor="middle">13</text>
<text class="ax" transform="translate(503.1 795.3) scale(0.955 1)" text-anchor="middle">12</text>
<text class="ax" transform="translate(597.5 795.3) scale(0.955 1)" text-anchor="middle">11</text>
<text class="ax" transform="translate(691.9 795.3) scale(0.955 1)" text-anchor="middle">10</text>
<text class="ax" transform="translate(786.3 795.3) scale(0.955 1)" text-anchor="middle">9</text>
<text class="ax" transform="translate(880.7 795.3) scale(0.955 1)" text-anchor="middle">8</text>
<text class="ax" transform="translate(975.1 795.3) scale(0.955 1)" text-anchor="middle">7</text>
<text class="ax" transform="translate(1069.5 795.3) scale(0.955 1)" text-anchor="middle">6</text>
<text class="ax" transform="translate(1163.9 795.3) scale(0.955 1)" text-anchor="middle">5</text>
<text class="ax" transform="translate(1258.3 795.3) scale(0.955 1)" text-anchor="middle">4</text>
<text class="ax" transform="translate(1352.7 795.3) scale(0.955 1)" text-anchor="middle">3</text>
<text class="ax" transform="translate(1447.1 795.3) scale(0.955 1)" text-anchor="middle">2</text>
<text x="124" y="527.6" text-anchor="middle" font-size="22" font-weight="bold" fill="#555" stroke="#555" stroke-width="1" textLength="59" lengthAdjust="spacingAndGlyphs">Rock</text>
<text x="125.3" y="740.3" text-anchor="middle" font-size="24" fill="#3a3a3a" textLength="56.5" lengthAdjust="spacingAndGlyphs">North</text>
<text x="1446.5" y="740.4" text-anchor="middle" font-size="24" fill="#1c1c1c" stroke="#1c1c1c" stroke-width="0.2" textLength="60" lengthAdjust="spacingAndGlyphs">South</text>
<text class="lab" x="880.5" y="231.1" text-anchor="middle">I</text>
<text class="lab" x="880.5" y="259.9" text-anchor="middle">II</text>
<text class="lab" x="880.5" y="307.3" text-anchor="middle">III</text>
<text class="lab" x="880.5" y="348" text-anchor="middle">IV</text>
<text class="lab" x="880.5" y="366.7" text-anchor="middle">V</text>
<text class="lab" x="880.5" y="385.7" text-anchor="middle">VI</text>
<text class="lab" x="880.5" y="412" text-anchor="middle">VII</text>
<text class="lab" x="880.5" y="436.9" text-anchor="middle">VIII</text>
<text class="lab" x="880.5" y="452.4" text-anchor="middle">IX</text>
<text class="lab" x="880.5" y="477.8" text-anchor="middle">X</text>
<text class="lab" x="880.5" y="498.7" text-anchor="middle">XI</text>
<text class="lab" x="880.5" y="511.5" text-anchor="middle">XII</text>
<text class="lab" x="880.5" y="527.9" text-anchor="middle">XIII</text>
<text class="lab" x="880.5" y="550.1" text-anchor="middle">XIV</text>
<text class="lab" x="880.5" y="571.3" text-anchor="middle">XV</text>
<text class="lab" x="1356.3" y="550.6">I</text>
<text class="lab" x="1357" y="578.9">V</text>
<text class="lab" x="1357" y="594.9">VI</text>
<text class="lab" x="1357" y="613.2">VII</text>
<text class="lab" x="1357" y="631.6">IX</text>
<text class="lab" x="1357" y="651.8">X</text>
<path class="pt" d="M1352.3 575.1L1331 598.8M1352.3 589.9L1331 605.3M1351.8 607.4L1320.9 608.2M1352.3 626.4L1331 611.8M1352.3 643.8L1331 631.4"/>
<g id="legend">
<rect x="182.2" y="542.5" width="359" height="208.7" fill="#fff" stroke="#9e9e9e" stroke-width="3.3"/>
<rect x="200.7" y="561.5" width="65.9" height="28.1" fill="#e3101e"/>
<text transform="translate(233.7 584.4) scale(1.045 1)" text-anchor="middle" font-size="23.5" font-weight="bold" fill="#0a0a0a" stroke="#0a0a0a" stroke-width="0.25">VII</text>
<rect x="200.7" y="599.4" width="65.9" height="27.6" fill="#119a36"/>
<text transform="translate(233.7 622.1) scale(1.045 1)" text-anchor="middle" font-size="23.5" font-weight="bold" fill="#0a0a0a" stroke="#0a0a0a" stroke-width="0.25">VIII</text>
<rect x="200.7" y="637" width="65.9" height="27.9" fill="#60abe2"/>
<text transform="translate(233.7 659.9) scale(1.045 1)" text-anchor="middle" font-size="23.5" font-weight="bold" fill="#0a0a0a" stroke="#0a0a0a" stroke-width="0.25">IX</text>
<rect x="200.7" y="664.8" width="65.9" height="28.1" fill="#c2def5"/>
<text transform="translate(233.7 687.7) scale(1.045 1)" text-anchor="middle" font-size="23.5" font-weight="bold" fill="#0a0a0a" stroke="#0a0a0a" stroke-width="0.25">X</text>
<rect x="200.7" y="702.9" width="65.9" height="27.8" fill="#f5bd42"/>
<text transform="translate(233.7 725.7) scale(1.045 1)" text-anchor="middle" font-size="23.5" font-weight="bold" fill="#0a0a0a" stroke="#0a0a0a" stroke-width="0.25">XI</text>
<text x="286.2" y="584.2" font-size="23.5" fill="#0a0a0a" stroke="#0a0a0a" stroke-width="0.25" textLength="186.5" lengthAdjust="spacingAndGlyphs">Protoaurignacian</text>
<text x="286.2" y="622" font-size="23.5" fill="#0a0a0a" stroke="#0a0a0a" stroke-width="0.25" textLength="238" lengthAdjust="spacingAndGlyphs">Later Châtelperronian</text>
<text x="286.2" y="669.4" font-size="23.5" fill="#0a0a0a" stroke="#0a0a0a" stroke-width="0.25" textLength="175.5" lengthAdjust="spacingAndGlyphs">Châtelperronian</text>
<text x="286.2" y="725.6" font-size="23.5" fill="#0a0a0a" stroke="#0a0a0a" stroke-width="0.25" textLength="124" lengthAdjust="spacingAndGlyphs">Mousterian</text>
</g>
<g id="inset">
<rect x="1203.6" y="14.8" width="281.5" height="424" fill="#fff" stroke="#9e9e9e" stroke-width="3.1"/>
<polygon fill="#dadada" points="1314.8,148 1340,148 1352.4,144.4 1391.5,108 1391.5,66 1398.4,65.5 1409,65.5 1413.5,84 1433,149.8 1436.5,166.6 1446.2,193.1 1449.4,207.3 1451.9,236.5 1473.7,248.9 1471.9,258 1452,265 1442.6,272 1436.1,283.1 1435,302.8 1426.2,308.2 1425.2,326.8 1400,349.7 1403.3,381.4 1394.6,383.5 1355.3,382.4 1349.8,344.2 1356.4,341 1347.6,310.4 1346.3,308.2 1297.2,302.8 1291.7,291.8 1285.6,283.1 1286.8,249.8 1287.7,233.9 1292.1,226.8 1304.5,207.3 1310.7,191.4 1313.3,166.6"/>
<text x="1237.6" y="406.5" font-size="16.6" font-weight="bold" fill="#b7b7b7" textLength="150" lengthAdjust="spacingAndGlyphs">Excavation of layer VII</text>
<path fill="none" stroke="#858585" stroke-opacity="0.55" stroke-width="1.05" d="M1250.2 24.4V412.4M1270.7 24.4V412.4M1291.1 24.4V412.4M1311.6 24.4V412.4M1332 24.4V412.4M1352.5 24.4V412.4M1373 24.4V412.4M1393.4 24.4V412.4M1413.8 24.4V412.4M1434.3 24.4V412.4M1454.8 24.4V412.4M1475.2 24.4V412.4M1229.8 24.4H1475.2M1229.8 44.8H1475.2M1229.8 65.2H1475.2M1229.8 85.7H1475.2M1229.8 106.1H1475.2M1229.8 126.5H1475.2M1229.8 146.9H1475.2M1229.8 167.3H1475.2M1229.8 187.8H1475.2M1229.8 208.2H1475.2M1229.8 228.6H1475.2M1229.8 249H1475.2M1229.8 269.4H1475.2M1229.8 289.9H1475.2M1229.8 310.3H1475.2M1229.8 330.7H1475.2M1229.8 351.1H1475.2M1229.8 371.5H1475.2M1229.8 392H1475.2"/>
<path fill="none" stroke="#333" stroke-width="1.1" d="M1229.8 44.8h4.5M1229.8 65.2h4.5M1229.8 85.7h4.5M1229.8 106.1h4.5M1229.8 126.5h4.5M1229.8 146.9h4.5M1229.8 167.3h4.5M1229.8 187.8h4.5M1229.8 208.2h4.5M1229.8 228.6h4.5M1229.8 249h4.5M1229.8 269.4h4.5M1229.8 289.9h4.5M1229.8 310.3h4.5M1229.8 330.7h4.5M1229.8 351.1h4.5M1229.8 371.5h4.5M1229.8 392h4.5"/>
<path fill="none" stroke="#3c3c3c" stroke-width="1.45" d="M1229.8 24.4V412.4H1475.2"/>
<text class="il" style="font-size:8.8px" x="1221" y="34.3" text-anchor="middle">20</text>
<text class="il" style="font-size:8.8px" x="1221" y="54.7" text-anchor="middle">19</text>
<text class="il" style="font-size:8.8px" x="1221" y="75.1" text-anchor="middle">18</text>
<text class="il" style="font-size:8.8px" x="1221" y="95.6" text-anchor="middle">17</text>
<text class="il" style="font-size:8.8px" x="1221" y="116" text-anchor="middle">16</text>
<text class="il" style="font-size:8.8px" x="1221" y="136.4" text-anchor="middle">15</text>
<text class="il" style="font-size:8.8px" x="1221" y="156.8" text-anchor="middle">14</text>
<text class="il" style="font-size:8.8px" x="1221" y="177.2" text-anchor="middle">13</text>
<text class="il" style="font-size:8.8px" x="1221" y="197.7" text-anchor="middle">12</text>
<text class="il" style="font-size:8.8px" x="1221" y="218.1" text-anchor="middle">11</text>
<text class="il" style="font-size:8.8px" x="1221" y="238.5" text-anchor="middle">10</text>
<text class="il" style="font-size:8.8px" x="1221" y="258.9" text-anchor="middle">9</text>
<text class="il" style="font-size:8.8px" x="1221" y="279.3" text-anchor="middle">8</text>
<text class="il" style="font-size:8.8px" x="1221" y="299.8" text-anchor="middle">7</text>
<text class="il" style="font-size:8.8px" x="1221" y="320.2" text-anchor="middle">6</text>
<text class="il" style="font-size:8.8px" x="1221" y="340.6" text-anchor="middle">5</text>
<text class="il" style="font-size:8.8px" x="1221" y="361" text-anchor="middle">4</text>
<text class="il" style="font-size:8.8px" x="1221" y="381.4" text-anchor="middle">3</text>
<text class="il" style="font-size:8.8px" x="1221" y="401.9" text-anchor="middle">2</text>
<text class="il" x="1239.7" y="423.6" text-anchor="middle">T</text>
<text class="il" x="1260.6" y="423.6" text-anchor="middle">U</text>
<text class="il" x="1281.6" y="423.6" text-anchor="middle">V</text>
<text class="il" x="1302.5" y="423.6" text-anchor="middle">W</text>
<text class="il" x="1323.5" y="423.6" text-anchor="middle">X</text>
<text class="il" x="1344.4" y="423.6" text-anchor="middle">Y</text>
<text class="il" x="1365.3" y="423.6" text-anchor="middle">Z</text>
<text class="il" x="1386.3" y="423.6" text-anchor="middle">A</text>
<text class="il" x="1407.2" y="423.6" text-anchor="middle">B</text>
<text class="il" x="1428.2" y="423.6" text-anchor="middle">C</text>
<text class="il" x="1449.1" y="423.6" text-anchor="middle">D</text>
<text x="1236.6" y="61.2" font-size="19" font-weight="bold" fill="#0a0a0a" stroke="#0a0a0a" stroke-width="0.25" textLength="168.6" lengthAdjust="spacingAndGlyphs">Stratigraphic profile</text>
<path fill="none" stroke="#111" stroke-width="1.5" d="M1351.5 73.2H1382"/><polygon fill="#111" points="1388.2,73.2 1380.3,70.6 1380.3,75.8"/>
<path fill="none" stroke="#000" stroke-width="3" d="M1392.8 67.3V385.7"/>
<path fill="none" stroke="#222" stroke-width="1.4" stroke-linejoin="round" d="M1322.7 64.3L1324 96.5L1312.4 116L1311.9 148.9L1299.2 176.3L1301.8 179.8L1280.6 221.5L1259.3 213"/>
<path class="ith" d="M1311.9 148.9L1306.3 168.3L1308.4 182.5L1310.7 190.5L1283.2 217.9M1286.8 232.1L1270.8 250.7M1275.3 292.9L1262.2 330.7"/>
<path class="dsh" d="M1306.3 170L1308.4 182.5L1310 189.6L1304.5 200.2L1288.5 228.5L1286.8 232.1L1281.5 230.3L1270.8 220.6M1270.8 250.7L1273.5 265.7L1258.4 279.9"/>
<path class="ith" stroke="#666" stroke-width="1.05" stroke-dasharray="1.2 2.3" d="M1262 244.5L1270.8 250.7L1277.9 254.2L1286.4 255.1L1285.5 281.8L1284.1 286.4L1276.4 290.7L1260 288.6L1258.5 279.8M1257.2 329L1271 333.3L1273.1 353L1257.9 369.3L1269.9 370.4L1269.9 379.2L1264.4 392.3M1260 371.5L1257.9 379.2"/>
<path fill="none" stroke="#999" stroke-width="2" d="M1415.4 79L1417 89.5"/>
<path fill="none" stroke="#222" stroke-width="1.4" stroke-linejoin="round" d="M1409 46L1413.5 84L1429.4 140L1436.5 166.6L1441.8 171.9L1446.8 187.8L1446.2 194"/>
<path class="dsh" d="M1436.5 166.6L1446.2 193.1L1449.4 207.3L1451.9 236.5L1473.7 248.9L1471.9 260.4L1449.8 265.7M1449.2 283.1L1449.2 309.3L1443.7 321.3L1452.4 342L1455.7 374.8L1459 378L1466.6 378"/>
<path class="ith" d="M1449.3 262.2L1452 282M1450.8 262.2L1454.6 291.8L1455.5 330L1458 336L1463.4 337.2"/>
<path class="ith" stroke="#666" stroke-width="1.05" stroke-dasharray="1.2 2.3" d="M1427.3 307.1L1427.3 324.6L1430.6 331.1L1427.3 339.9L1437.2 347.5L1451.4 344.2M1433.9 344.2L1435 359.5L1448.1 365L1443.7 375.9L1453.5 379.2L1457.9 385.7"/>
<path class="ith" stroke-width="1.1" stroke-dasharray="5 1.5 1 1.5" d="M1411 348.6L1418.6 381.4L1449.2 389.7M1403.3 367.2L1403.3 374.8L1414.2 389.7"/>
<text class="it" x="1459" y="288.8" text-anchor="middle">3m</text>
<text class="it" x="1467" y="339" text-anchor="middle">2m</text>
<text class="it" x="1471.5" y="379.4" text-anchor="middle">-1m</text>
<text class="it" x="1464.5" y="388.2" text-anchor="middle">0m</text>
<text class="it" x="1455" y="391" text-anchor="middle">-1m</text>
<text class="it" x="1419.7" y="390.8" text-anchor="middle">-2m</text>
<text x="1413.6" y="403" text-anchor="middle" font-size="7.5" font-weight="bold" fill="#222">0</text>
<text x="1455.7" y="403" text-anchor="middle" font-size="7.5" font-weight="bold" fill="#222">2 m</text>
<rect x="1413.1" y="404.7" width="41.5" height="3.9" fill="#bdbdbd" stroke="#222" stroke-width="0.6"/>
<rect x="1413.1" y="404.7" width="20.7" height="2" fill="#111"/><rect x="1433.8" y="406.7" width="20.8" height="1.9" fill="#111"/>
<g fill="none" stroke="#222" stroke-width="0.9" transform="translate(1444.8 50.1)"><path d="M4.6 -18.6L-2.6 -4.8M4.6 -18.6L5.3 -1.2M4.6 -18.6L0.5 -5.3M4.6 -18.6L2.6 -5.2M4.6 -18.6L4.2 -4.5" stroke-width="0.6"/><circle r="5.2" fill="#fff" stroke-width="1.2"/><path d="M-4.4 3.2L-7.5 8.3L3 10.3L4.3 3.4M-2.4 8.9L-2.6 12M-9.3 -2.6L-5.2 -1M5.2 1L8.8 2.3"/><text x="0" y="2.7" text-anchor="middle" font-size="7.6" font-weight="bold" font-style="italic" fill="#222" stroke="none">N</text></g>
</g>
</svg>
</body></html>
